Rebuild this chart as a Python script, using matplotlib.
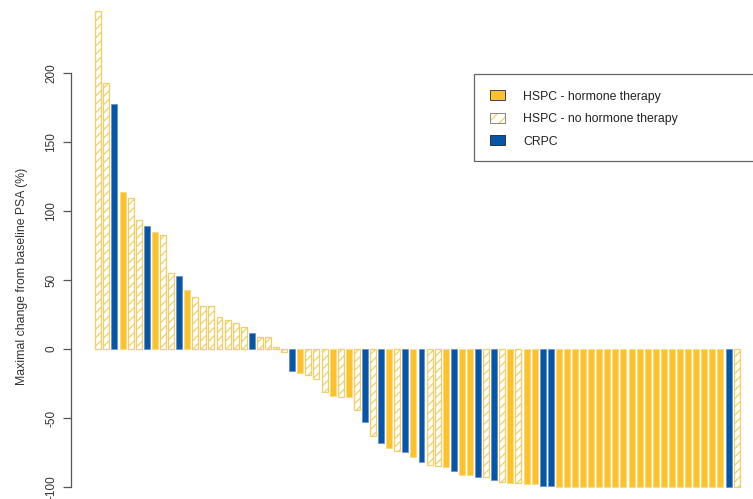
import matplotlib
matplotlib.use("Agg")
import matplotlib.pyplot as plt
from matplotlib.patches import Patch, Rectangle
from matplotlib.legend_handler import HandlerTuple

plt.rcParams['font.family'] = ['Liberation Sans', 'DejaVu Sans']
plt.rcParams['hatch.linewidth'] = 0.9

# Data: maximal PSA change (%) per patient, sorted (waterfall)
psa_change = [245, 193, 178, 114, 110, 94, 89, 85, 83, 55,
              53, 43, 38, 31, 31, 23, 21, 19, 16, 12,
              9, 8.5, 1.5, -2, -16, -17, -19, -22, -31, -34,
              -34.5, -35, -44, -53, -63, -68, -71.5, -74, -74.5, -78,
              -82, -84, -85, -85.5, -88.5, -91, -91, -93, -93, -95,
              -96.5, -97, -97, -98, -98, -99, -99.5, -100, -100, -100,
              -100, -100, -100, -100, -100, -100, -100, -100, -100, -100,
              -100, -100, -100, -100, -100, -100, -100, -100, -100, -100]
# Y = HSPC hormone therapy, H = HSPC no hormone therapy, B = CRPC
group = ['H', 'H', 'B', 'Y', 'H', 'H', 'B', 'Y', 'H', 'H',
         'B', 'Y', 'H', 'H', 'H', 'H', 'H', 'H', 'H', 'B',
         'H', 'H', 'H', 'H', 'B', 'Y', 'H', 'H', 'H', 'Y',
         'H', 'Y', 'H', 'B', 'H', 'B', 'Y', 'H', 'B', 'Y',
         'B', 'H', 'H', 'Y', 'B', 'Y', 'Y', 'B', 'H', 'B',
         'H', 'Y', 'H', 'Y', 'Y', 'B', 'B', 'Y', 'Y', 'Y',
         'Y', 'Y', 'Y', 'Y', 'Y', 'Y', 'Y', 'Y', 'Y', 'Y',
         'Y', 'Y', 'Y', 'Y', 'Y', 'Y', 'Y', 'Y', 'B', 'H']
legend_labels = ['HSPC - hormone therapy', 'HSPC - no hormone therapy', 'CRPC']
y_ticks = [-100, -50, 0, 50, 100, 150, 200]
y_label = 'Maximal change from baseline PSA (%)'

YELLOW = '#FDC12A'
YELLOW_EDGE = '#F9DA85'
HATCH = '#F0CF66'
BLUE = '#0556A8'

W, H = 753, 499
fig = plt.figure(figsize=(W / 100, H / 100), dpi=100)
ax = fig.add_axes([71 / W, 0, (W - 71) / W, 1])

bw = 0.74
for code in ['Y', 'H', 'B']:
    xs = [i for i, g in enumerate(group) if g == code]
    vs = [psa_change[i] for i in xs]
    if code == 'Y':
        ax.bar(xs, vs, width=bw, color=YELLOW, edgecolor=YELLOW_EDGE, linewidth=0.7)
    elif code == 'H':
        ax.bar(xs, vs, width=bw, color='white', edgecolor=HATCH, hatch='////', linewidth=0.9)
    else:
        ax.bar(xs, vs, width=bw, color=BLUE, edgecolor='#5F8CC4', linewidth=0.5)

# axis mapping (pixel geometry of the reference)
ax.set_ylim(-108.7, 253.3)
ax.set_xlim(-3.38, 81.03)

for s in ['top', 'right', 'bottom']:
    ax.spines[s].set_visible(False)
ax.spines['left'].set_bounds(-100, 200)
ax.spines['left'].set_color('#555555')
ax.spines['left'].set_linewidth(0.9)
ax.set_xticks([])
ax.set_yticks(y_ticks)
ax.set_yticklabels([str(t) for t in y_ticks])
ax.tick_params(axis='y', length=6, width=0.9, pad=4, labelsize=8.5,
               labelrotation=90, colors='#555555', labelcolor='#333333')
for lab in ax.get_yticklabels():
    lab.set_va('center')

fig.text(22 / W, 1 - 276 / H, y_label, rotation=90, ha='center', va='center',
         fontsize=8.8, color='#333333')

# legend box (frame drawn separately so padding matches the reference)
fig.add_artist(Rectangle((474 / W, 1 - 161 / H), 300 / W, 87 / H,
                         transform=fig.transFigure, fill=False,
                         edgecolor='#666666', linewidth=0.9))
h_y = Patch(facecolor=YELLOW, edgecolor='#444444', linewidth=0.7)
h_h = (Patch(facecolor='white', edgecolor=HATCH, hatch='///', linewidth=0.8),
       Patch(facecolor='none', edgecolor='#888888', linewidth=0.7))
h_b = Patch(facecolor=BLUE, edgecolor='#333333', linewidth=0.7)
leg = fig.legend([h_y, h_h, h_b], legend_labels,
                 handler_map={tuple: HandlerTuple(ndivide=1, pad=0)},
                 loc='upper left', bbox_to_anchor=(490 / W, 1 - 90.5 / H),
                 bbox_transform=fig.transFigure, borderaxespad=0,
                 fontsize=8.8, frameon=False,
                 borderpad=0, labelspacing=0.85, handlelength=1.25,
                 handleheight=0.85, handletextpad=1.45)
for t in leg.get_texts():
    t.set_color('#222222')

fig.savefig('out.png', dpi=100)
